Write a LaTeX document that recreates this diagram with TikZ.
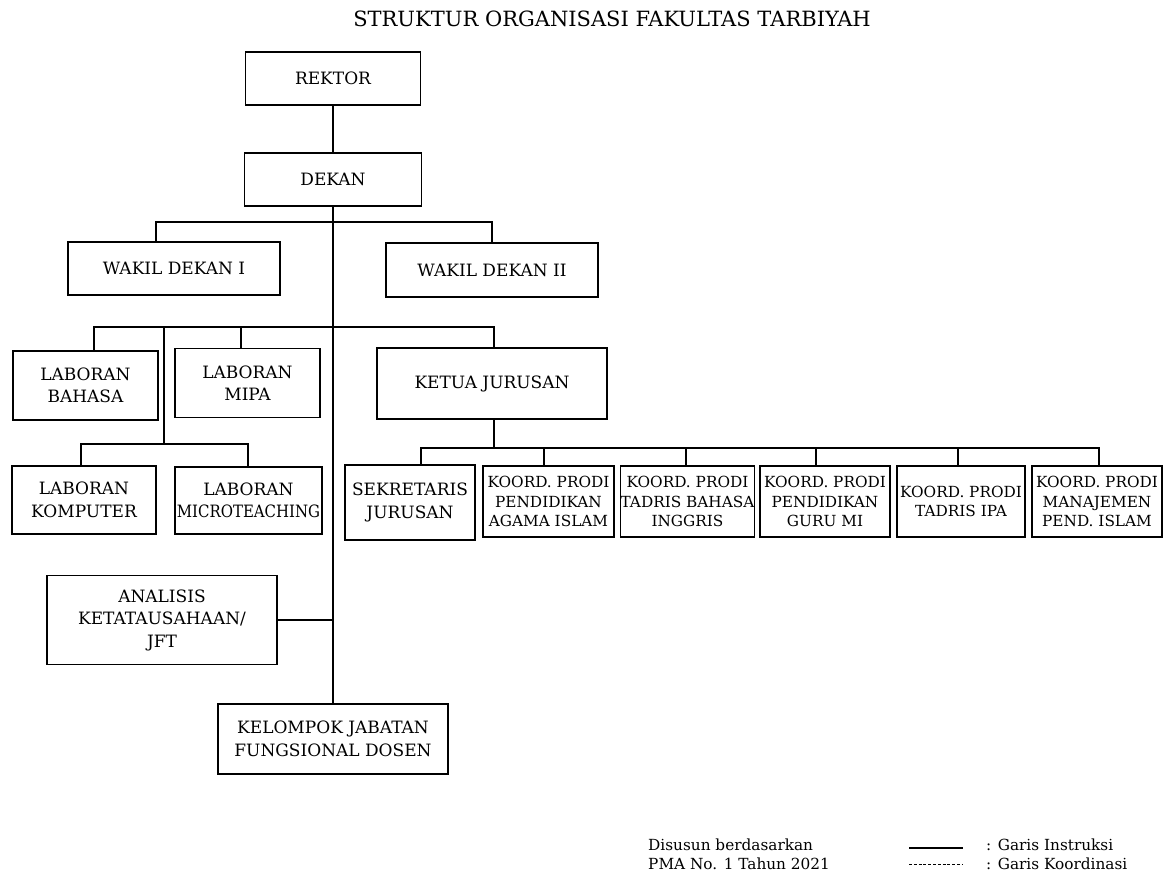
\documentclass[tikz,border=0pt]{standalone}
\usepackage{fontspec}
\setmainfont{DejaVu Serif}
\begin{document}
\begin{tikzpicture}[x=1pt,y=-1pt,
  box/.style={draw, line width=1.1pt, align=center, inner sep=0pt, font=\fontsize{17}{22.5}\selectfont},
  heavybox/.style={box, line width=1.7pt},
  koord/.style={font=\fontsize{15.3}{19.5}\selectfont},
  link/.style={line width=1.5pt},
  legendtext/.style={anchor=base west, inner sep=0pt, font=\fontsize{15.3}{18}\selectfont},
]
\useasboundingbox[fill=white] (0,0) rectangle (1165,872);

\node[anchor=base, inner sep=0pt, font=\fontsize{21}{25}\selectfont] (title) at (612,27) {STRUKTUR ORGANISASI FAKULTAS TARBIYAH};

\node[box, minimum width=175pt, minimum height=53pt] (rektor) at (333,78.5) {REKTOR};
\node[heavybox, minimum width=177pt, minimum height=53pt] (dekan) at (333,179.5) {DEKAN};
\node[box, minimum width=212pt, minimum height=53pt] (wd1) at (174,268.5) {WAKIL DEKAN I};
\node[box, minimum width=212pt, minimum height=54pt] (wd2) at (492,270) {WAKIL DEKAN II};

\node[heavybox, minimum width=145pt, minimum height=69pt] (labbhs) at (85.5,385.5) {LABORAN\\BAHASA};
\node[heavybox, minimum width=145pt, minimum height=69pt] (labmipa) at (247.5,383) {LABORAN\\MIPA};
\node[box, minimum width=230pt, minimum height=71pt] (ketua) at (492,383.5) {KETUA JURUSAN};

\node[heavybox, minimum width=144pt, minimum height=68pt] (labkom) at (84,500) {LABORAN\\KOMPUTER};
\node[box, minimum width=147pt, minimum height=67pt] (labmicro) at (248.5,500.5) {LABORAN\\\scalebox{0.88}[1]{MICROTEACHING}};

\node[heavybox, minimum width=130pt, minimum height=75pt] (sek) at (410,502.5) {SEKRETARIS\\JURUSAN};
\node[heavybox, koord, minimum width=131pt, minimum height=71pt] (pai) at (548.5,501.5) {KOORD. PRODI\\PENDIDIKAN\\AGAMA ISLAM};
\node[box, koord, minimum width=129pt, minimum height=71pt] (tbi) at (687.5,501.5) {KOORD. PRODI\\TADRIS BAHASA\\INGGRIS};
\node[heavybox, koord, minimum width=130pt, minimum height=71pt] (pgmi) at (825,501.5) {KOORD. PRODI\\PENDIDIKAN\\GURU MI};
\node[box, koord, minimum width=128pt, minimum height=71pt] (ipa) at (961,501.5) {KOORD. PRODI\\TADRIS IPA};
\node[heavybox, koord, minimum width=130pt, minimum height=71pt] (mpi) at (1097,501.5) {KOORD. PRODI\\MANAJEMEN\\PEND. ISLAM};

\node[box, minimum width=230pt, minimum height=89pt] (analisis) at (162,620) {ANALISIS\\KETATAUSAHAAN/\\JFT};
\node[heavybox, minimum width=230pt, minimum height=70pt] (kelompok) at (333,739) {KELOMPOK JABATAN\\FUNGSIONAL DOSEN};

% connectors
\coordinate (busA) at (333,222);
\coordinate (busB) at (333,327);
\coordinate (labjoint) at (164,327);
\coordinate (busC) at (164,444);
\coordinate (busD) at (494,448);

\draw[link] (rektor.south) -- (dekan.north);
\draw[link] (dekan.south) -- (kelompok.north);
\draw[link] ([xshift=-18pt]wd1.north) |- (busA) -| (wd2.north);
\draw[link] ([xshift=8.5pt]labbhs.north) |- (busB) -| ([xshift=2pt]ketua.north);
\draw[link] ([xshift=-6.5pt]labmipa.north) |- (busB);
\draw[link] (labjoint) -- (busC);
\draw[link] ([xshift=-3pt]labkom.north) |- (busC) -| ([xshift=-0.5pt]labmicro.north);
\draw[link] ([xshift=2pt]ketua.south) -- (busD);
\draw[link] ([xshift=11pt]sek.north) |- (busD) -| ([xshift=2pt]mpi.north);
\draw[link] ([xshift=-4.5pt]pai.north) -- ([xshift=-4.5pt]pai.north |- busD);
\draw[link] ([xshift=-1.5pt]tbi.north) -- ([xshift=-1.5pt]tbi.north |- busD);
\draw[link] ([xshift=-9pt]pgmi.north) -- ([xshift=-9pt]pgmi.north |- busD);
\draw[link] ([xshift=-3pt]ipa.north) -- ([xshift=-3pt]ipa.north |- busD);
\draw[link] (analisis.east) -- (analisis.east -| busA);

% legend
\node[legendtext] (src1) at (648,850) {Disusun berdasarkan};
\node[legendtext] (src2) at (648,869) {PMA No. 1 Tahun 2021};
\coordinate (s1) at (909,848);
\coordinate (s2) at (963,848);
\coordinate (d1) at (909,864);
\coordinate (d2) at (963,864);
\draw[line width=2pt] (s1) -- (s2);
\draw[line width=0.7pt, dash pattern=on 3pt off 1.8pt] (d1) -- (d2);
\node[legendtext] (lg1) at (986,850) {: Garis Instruksi};
\node[legendtext] (lg2) at (986,869) {: Garis Koordinasi};
\end{tikzpicture}
\end{document}
